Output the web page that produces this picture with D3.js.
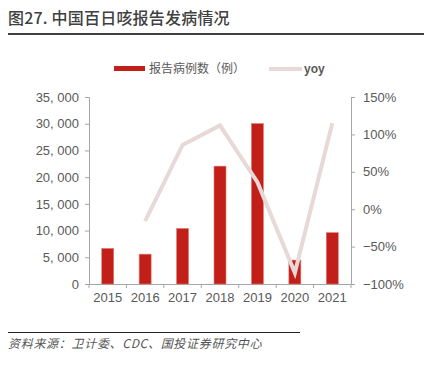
<!DOCTYPE html>
<html>
<head>
<meta charset="utf-8">
<script src="https://cdn.jsdelivr.net/npm/d3@7"></script>
<style>
  body { margin: 0; background: #fff; }
  svg { display: block; }
</style>
</head>
<body>
<div id="chart"></div>
<script>
var years = ["2015", "2016", "2017", "2018", "2019", "2020", "2021"];
var cases = [6658, 5584, 10390, 22057, 30027, 4475, 9611];
var yoy = [null, -0.16, 0.86, 1.12, 0.36, -0.85, 1.15];
var leftTicks = [0, 5000, 10000, 15000, 20000, 25000, 30000, 35000];
var rightTicks = [-1, -0.5, 0, 0.5, 1, 1.5];

var W = 430, H = 370;
var numFont = "'Liberation Sans', Arial, sans-serif";
var cjkFont = "'Noto Sans CJK SC', sans-serif";
var barColor = "#c21f19";
var lineColor = "#e8d9d9";
var textColor = "#595959";
var axisColor = "#a6a6a6";

var svg = d3.select("#chart").append("svg")
    .attr("width", W)
    .attr("height", H);

// title
svg.append("text")
    .attr("x", 8)
    .attr("y", 24)
    .attr("font-family", cjkFont)
    .attr("font-size", "16px")
    .attr("font-weight", "500")
    .attr("letter-spacing", "0.2px")
    .attr("fill", "#404040")
    .text("图27. 中国百日咳报告发病情况");

svg.append("line")
    .attr("x1", 8).attr("x2", 424)
    .attr("y1", 34).attr("y2", 34)
    .attr("stroke", "#404040")
    .attr("stroke-width", 2);

// scales
var x = d3.scaleBand()
    .domain(years)
    .range([89, 351])
    .paddingInner(0.68)
    .paddingOuter(0.34);

var y = d3.scaleLinear()
    .domain([0, 35000])
    .range([284, 97]);

var y1 = d3.scaleLinear()
    .domain([-1, 1.5])
    .range([284, 97]);

// axes
var xAxisGroup = svg.append("g")
    .attr("transform", "translate(0,284)")
    .call(d3.axisBottom(x).tickSize(0).tickPadding(9));

// x boundary ticks
var step = x.step();
xAxisGroup.selectAll(".bound")
    .data(d3.range(years.length + 1))
    .enter().append("line")
    .attr("class", "bound")
    .attr("x1", function(i) { return 89 + i * step; })
    .attr("x2", function(i) { return 89 + i * step; })
    .attr("y1", 0).attr("y2", 4)
    .attr("stroke", axisColor);

var yAxisGroup = svg.append("g")
    .attr("transform", "translate(89,0)")
    .call(d3.axisLeft(y)
        .tickValues(leftTicks)
        .tickSize(4)
        .tickPadding(6)
        .tickFormat(function(d) { return d3.format(",")(d).replace(",", ", "); }));

var yAxisGroup1 = svg.append("g")
    .attr("transform", "translate(351,0)")
    .call(d3.axisRight(y1)
        .tickValues(rightTicks)
        .tickSize(4)
        .tickPadding(8)
        .tickFormat(function(d) { return (d < 0 ? "\u2212" : "") + Math.round(Math.abs(d) * 100) + "%"; }));

[xAxisGroup, yAxisGroup, yAxisGroup1].forEach(function(g) {
    g.selectAll("path.domain").attr("stroke", axisColor);
    g.selectAll(".tick line").attr("stroke", axisColor);
    g.selectAll("text")
        .attr("font-family", numFont)
        .attr("font-size", "13px")
        .attr("fill", textColor);
});
xAxisGroup.select("path.domain").attr("d", "M89,0.5H351");

// bars
svg.append("g").selectAll("rect")
    .data(cases)
    .enter().append("rect")
    .attr("x", function(d, i) { return x(years[i]); })
    .attr("y", function(d) { return y(d); })
    .attr("width", x.bandwidth())
    .attr("height", function(d) { return 284 - y(d); })
    .attr("fill", barColor)
    .attr("stroke", "#e07a74")
    .attr("stroke-width", 0.6);

// yoy line
var valueline = d3.line()
    .defined(function(d) { return d != null; })
    .x(function(d, i) { return x(years[i]) + x.bandwidth() / 2; })
    .y(function(d) { return y1(d); });

svg.append("path")
    .datum(yoy)
    .attr("fill", "none")
    .attr("stroke", lineColor)
    .attr("stroke-width", 4)
    .attr("stroke-linejoin", "miter")
    .attr("d", valueline);

// legend
var legend = svg.append("g");
legend.append("rect")
    .attr("x", 114).attr("y", 66)
    .attr("width", 31).attr("height", 5)
    .attr("fill", barColor);
legend.append("text")
    .attr("x", 149).attr("y", 73)
    .attr("font-family", cjkFont)
    .attr("font-size", "12px")
    .attr("fill", textColor)
    .text("报告病例数（例）");
legend.append("line")
    .attr("x1", 269).attr("x2", 302)
    .attr("y1", 69).attr("y2", 69)
    .attr("stroke", lineColor)
    .attr("stroke-width", 4);
legend.append("text")
    .attr("x", 304).attr("y", 73)
    .attr("font-family", numFont)
    .attr("font-size", "12px")
    .attr("font-weight", "bold")
    .attr("fill", textColor)
    .text("yoy");

// source
svg.append("line")
    .attr("x1", 8).attr("x2", 300)
    .attr("y1", 332.5).attr("y2", 332.5)
    .attr("stroke", "#222")
    .attr("stroke-width", 1);

svg.append("text")
    .attr("x", 8)
    .attr("y", 348)
    .attr("font-family", cjkFont)
    .attr("font-size", "12px")
    .attr("font-style", "italic")
    .attr("letter-spacing", "0.7px")
    .attr("fill", "#555")
    .text("资料来源：卫计委、CDC、国投证券研究中心");
</script>
</body>
</html>
